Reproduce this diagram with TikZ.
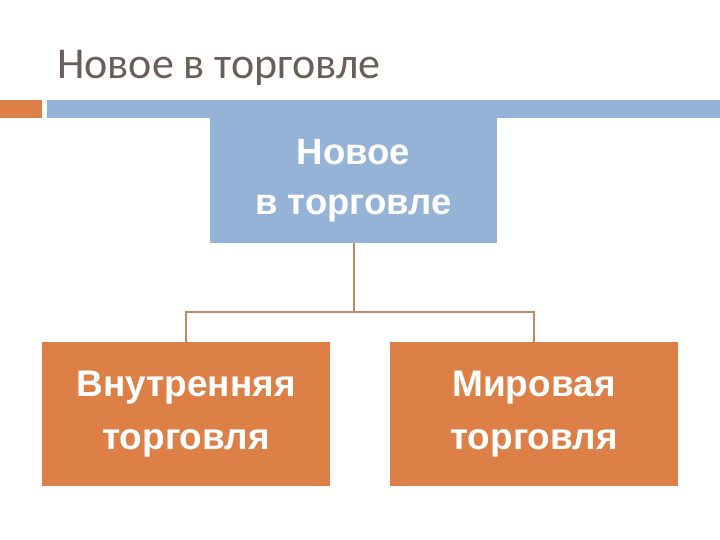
\documentclass[tikz,border=0pt]{standalone}
\usepackage{fontspec}
\setmainfont{Liberation Sans}
\newfontfamily\titlefont{Carlito}
\usetikzlibrary{calc}
\definecolor{barblue}{HTML}{94B3D6}
\definecolor{boxorange}{HTML}{DD8047}
\definecolor{linktan}{HTML}{C08B63}
\definecolor{titlegray}{HTML}{6B5D57}
\tikzset{
  topbox/.style={fill=barblue, minimum width=287pt, minimum height=125pt, inner sep=0pt,
    text=white, align=center, font=\fontsize{36.5}{50}\selectfont\bfseries},
  subbox/.style={fill=boxorange, minimum width=288pt, minimum height=144pt, inner sep=0pt,
    text=white, align=center, font=\fontsize{37}{53}\selectfont\bfseries},
  link/.style={draw=linktan, line width=2pt}
}
\begin{document}
\begin{tikzpicture}[x=1pt,y=-1pt]
    \useasboundingbox (0,0) rectangle (720,540);
    % header
    \node[anchor=base west, text=titlegray, inner sep=0pt, font=\titlefont\fontsize{44}{52}\selectfont] (title) at (57,79) {Новое в торговле};
    \fill[boxorange] (0,100) rectangle (42,118);
    \fill[barblue] (47,100) rectangle (720,118);
    % chart
    \node[topbox] (trade) at (353.5,180.5) {Новое\\в торговле};
    \node[subbox] (inner) at (186,414) {Внутренняя\\торговля};
    \node[subbox] (world) at (534,414) {Мировая\\торговля};
    \coordinate (J) at (trade.south |- 0,312);
    \draw[link] (trade.south) -- (J);
    \draw[link] (inner.north) |- (J) -| (world.north);
\end{tikzpicture}
\end{document}
